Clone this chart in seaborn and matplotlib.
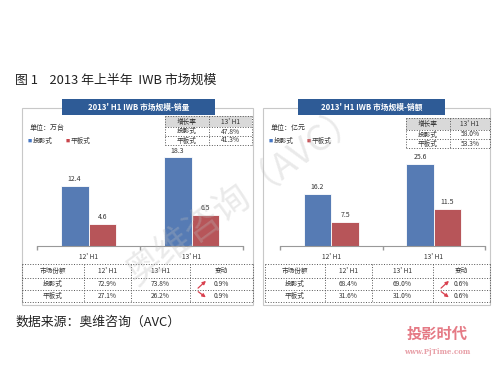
import matplotlib
matplotlib.use('Agg')
import matplotlib.pyplot as plt
import seaborn as sns
import pandas as pd
from matplotlib.patches import Rectangle, FancyArrowPatch

# data
categories = ["12' H1", "13' H1"]
series_names = ['投影式', '平板式']
volume_proj = [12.4, 18.3]
volume_flat = [4.6, 6.5]
value_proj = [16.2, 25.6]
value_flat = [7.5, 11.5]

growth_volume = ['47.8%', '41.3%']
growth_value = ['58.0%', '53.3%']

share_volume_12 = ['72.9%', '27.1%']
share_volume_13 = ['73.8%', '26.2%']
share_volume_chg = ['0.9%', '0.9%']
share_value_12 = ['68.4%', '31.6%']
share_value_13 = ['69.0%', '31.0%']
share_value_chg = ['0.6%', '0.6%']

BLUE = '#4677C4'
RED = '#C8444A'
NAVY = '#2E5B96'
W, H = 500, 375

sns.set_theme(style='white')
plt.rcParams['font.family'] = ['Noto Sans CJK SC', 'DejaVu Sans']

fig = plt.figure(figsize=(5, 3.75), dpi=100)
fig.patch.set_facecolor('white')


def fx(x):
    return x / W


def fy(y):
    return 1 - y / H


def box(x0, y0, x1, y1, **kw):
    fig.add_artist(Rectangle((fx(x0), fy(y1)), fx(x1) - fx(x0), fy(y0) - fy(y1),
                             transform=fig.transFigure, **kw))


def hline(x0, x1, y, **kw):
    fig.add_artist(plt.Line2D([fx(x0), fx(x1)], [fy(y), fy(y)], transform=fig.transFigure, **kw))


def vline(x, y0, y1, **kw):
    fig.add_artist(plt.Line2D([fx(x), fx(x)], [fy(y0), fy(y1)], transform=fig.transFigure, **kw))


def txt(x, y, s, **kw):
    fig.text(fx(x), fy(y), s, **kw)


def grid_table(cols, rows, cells, header_fill=None, fs=4.8):
    dot = dict(color='#555555', lw=0.7, ls=':')
    for y in rows:
        hline(cols[0], cols[-1], y, **dot)
    for x in cols:
        vline(x, rows[0], rows[-1], **dot)
    if header_fill:
        box(cols[0], rows[0], cols[-1], rows[1], facecolor=header_fill, edgecolor='none', zorder=0)
    for r, row in enumerate(cells):
        for c, s in enumerate(row):
            txt((cols[c] + cols[c + 1]) / 2, (rows[r] + rows[r + 1]) / 2, s,
                ha='center', va='center', fontsize=fs, color='#333333')


def panel(px0, px1, banner, banner_title, unit, proj, flat, ymax, ax_x, growth, gcols, grows, scols,
          s12, s13, schg):
    # panel frame and banner
    box(px0, 108, px1, 305, facecolor='none', edgecolor='#C8C8C8', lw=0.8)
    box(banner[0], 99, banner[1], 115, facecolor=NAVY, edgecolor='none', zorder=3)
    txt((banner[0] + banner[1]) / 2, 107.5, banner_title, ha='center', va='center',
        fontsize=5.6, color='white', fontweight='bold', zorder=4)
    txt(px0 + 8, 128, unit, fontsize=5, va='center', color='#333333')
    txt(px0 + 6, 141, '■', fontsize=3, va='center', color=BLUE)
    txt(px0 + 11, 141, series_names[0], fontsize=4.8, va='center', color='#333333')
    txt(px0 + 44, 141, '■', fontsize=3, va='center', color=RED)
    txt(px0 + 49, 141, series_names[1], fontsize=4.8, va='center', color='#333333')

    # bars
    df = pd.DataFrame({
        'period': categories * 2,
        'type': [series_names[0]] * 2 + [series_names[1]] * 2,
        'value': proj + flat,
    })
    ax = fig.add_axes([fx(ax_x[0]), fy(246), fx(ax_x[1]) - fx(ax_x[0]), fy(150) - fy(246)])
    sns.barplot(data=df, x='period', y='value', hue='type', palette=[BLUE, RED],
                width=0.54, edgecolor='white', linewidth=0.6, legend=False, ax=ax)
    for cont in ax.containers:
        ax.bar_label(cont, fmt='%.1f', fontsize=5, padding=2, color='#333333')
    ax.set_xlim(-0.5, 1.5)
    ax.set_ylim(0, ymax)
    ax.set_facecolor('none')
    for s in ['left', 'right', 'top']:
        ax.spines[s].set_visible(False)
    ax.spines['bottom'].set_color('#999999')
    ax.spines['bottom'].set_linewidth(0.8)
    ax.set_yticks([])
    ax.set_xticks([-0.5, 0.5, 1.5], minor=True)
    ax.tick_params(axis='x', which='minor', length=3, color='#999999', bottom=True)
    ax.tick_params(axis='x', which='major', length=0, labelsize=4.8, pad=5, labelcolor='#333333')
    ax.set_xlabel('')
    ax.set_ylabel('')

    # growth table
    grid_table(gcols, grows, [['增长率', "13' H1"],
                              [series_names[0], growth[0]],
                              [series_names[1], growth[1]]], header_fill='#D9D9D9')

    # share table
    srows = [264, 278, 290, 302]
    grid_table(scols, srows, [['市场份额', "12' H1", "13' H1", '变动'],
                              [series_names[0], s12[0], s13[0], schg[0]],
                              [series_names[1], s12[1], s13[1], schg[1]]])
    xa = scols[3] + 6
    arrow = dict(arrowstyle='-|>', color='#D9414F', lw=0.9, mutation_scale=5)
    fig.add_artist(FancyArrowPatch((fx(xa), fy(290)), (fx(xa + 12), fy(279)),
                                   transform=fig.transFigure, **arrow))
    fig.add_artist(FancyArrowPatch((fx(xa), fy(290)), (fx(xa + 12), fy(299)),
                                   transform=fig.transFigure, **arrow))


panel(22, 253, (62, 215), "2013' H1 IWB 市场规模-销量", '单位：万台',
      volume_proj, volume_flat, 96 / 4.84, (37, 243), growth_volume,
      [165, 209, 252], [116, 127, 136, 145], [22, 84, 131, 190, 253],
      share_volume_12, share_volume_13, share_volume_chg)
panel(263, 490, (298, 445), "2013' H1 IWB 市场规模-销额", '单位：亿元',
      value_proj, value_flat, 96 / 3.2, (280, 485), growth_value,
      [406, 450, 490], [118, 130, 139, 148], [265, 325, 372, 433, 490],
      share_value_12, share_value_13, share_value_chg)

# titles and source
txt(15, 80, '图 1    2013 年上半年  IWB 市场规模', fontsize=9.3, va='center', color='#222222')
txt(15, 322, '数据来源：奥维咨询（AVC）', fontsize=9.3, va='center', color='#222222')

# watermarks
txt(245, 195, '奥维咨询（AVC）', fontsize=26, rotation=36, ha='center', va='center',
    color='#BBBBBB', alpha=0.3, zorder=10)
txt(437, 334, '投影时代', fontsize=11, ha='center', va='center', color='#E57A85',
    fontweight='bold', zorder=10)
txt(437, 352, 'www.PjTime.com', fontsize=5, ha='center', va='center', color='#E8A0A8',
    family=['DejaVu Serif'], fontweight='bold', zorder=10)

fig.savefig('out.png', dpi=100, facecolor='white')
